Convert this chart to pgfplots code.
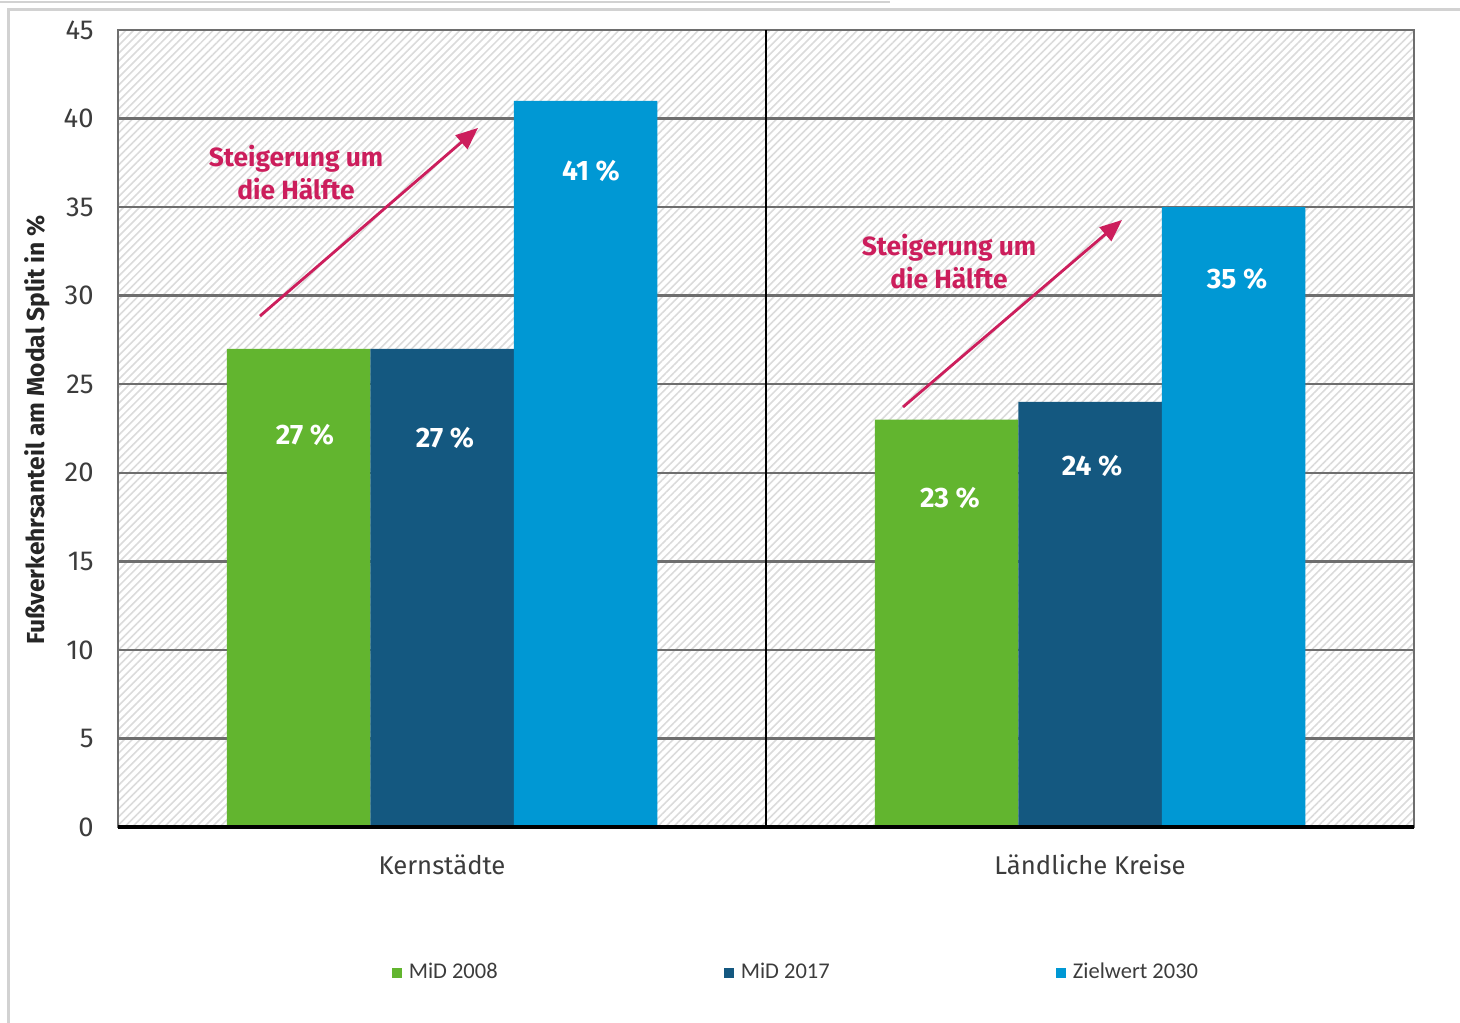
\documentclass[border=0pt]{standalone}
\usepackage{pgfplots}
\pgfplotsset{compat=1.18}
\usepackage{fontspec}
\setmainfont{Fira Sans}
\newfontfamily\carlito{Carlito}
\usetikzlibrary{patterns.meta,arrows.meta}
\definecolor{mgreen}{RGB}{98,181,47}
\definecolor{mdblue}{RGB}{20,88,128}
\definecolor{mlblue}{RGB}{0,152,212}
\definecolor{mmag}{RGB}{204,30,92}
\definecolor{gridc}{RGB}{110,110,110}
\definecolor{txt}{RGB}{60,60,60}
\begin{document}
\begin{tikzpicture}
\path[use as bounding box] (0,0) rectangle (14.6cm,10.23cm);
\draw[gray!35,line width=0.3mm] (0.08cm,0cm) -- (0.08cm,10.13cm) -- (14.6cm,10.13cm);
\draw[gray!35,line width=0.25mm] (0cm,10.21cm) -- (8.9cm,10.21cm);
\begin{axis}[
  at={(1.18cm,1.96cm)}, anchor=south west,
  scale only axis, width=12.96cm, height=7.97cm,
  ybar=0pt, bar width=1.435cm,
  xmin=-0.5, xmax=1.5, ymin=0, ymax=45,
  xtick={0,1}, xticklabels={Kernstädte, Ländliche Kreise},
  x tick label style={font=\fontsize{7.3}{9}\selectfont, text=txt, yshift=0mm},
  major x tick style={draw=none},
  extra x ticks={-0.5,0.5,1.5}, extra x tick labels={},
  extra x tick style={tick align=outside, major tick length=0.8mm, tick style={black, line width=0.6pt}},
  ytick={0,5,...,45},
  y tick label style={font=\fontsize{7.8}{9}\selectfont, text=txt, xshift=-1.2mm},
  /pgf/number format/assume math mode=true,
  major y tick style={draw=none},
  ymajorgrids, major grid style={gridc, line width=0.7pt},
  axis line style={gridc, line width=0.7pt},
  axis on top=false,
  axis background/.style={fill=white, postaction={pattern={Lines[angle=45,distance=1.6pt,line width=0.45pt]}, pattern color=gray!28}},
  ylabel={Fußverkehrsanteil am Modal Split in \%},
  ylabel style={at={(axis description cs:-0.0625,0.498)}, anchor=center, font=\bfseries\fontsize{7}{8}\selectfont, text=black!85},
  legend columns=3,
  legend style={at={(axis description cs:0.2107,-0.1832)}, anchor=west, draw=none, fill=none, inner sep=0pt,
    font=\carlito\fontsize{6.4}{8}\selectfont, text=txt,
    /tikz/every even column/.append style={column sep=0pt}},
  clip=false,
]
\addplot[fill=mgreen, draw=none, legend image code/.code={\fill[mgreen] (0mm,-0.5mm) rectangle (1mm,0.5mm);}] coordinates {(0,27) (1,23)};
\addlegendentry{\makebox[3.08cm][l]{MiD 2008}}
\addplot[fill=mdblue, draw=none, legend image code/.code={\fill[mdblue] (0mm,-0.5mm) rectangle (1mm,0.5mm);}] coordinates {(0,27) (1,24)};
\addlegendentry{\makebox[3.08cm][l]{MiD 2017}}
\addplot[fill=mlblue, draw=none, legend image code/.code={\fill[mlblue] (0mm,-0.5mm) rectangle (1mm,0.5mm);}] coordinates {(0,41) (1,35)};
\addlegendentry{\makebox[3.08cm][l]{Zielwert 2030}}
\draw[black, line width=0.6pt] (axis cs:0.5,0) -- (axis cs:0.5,45);
\draw[black, line width=1pt] (axis cs:-0.5,0) -- (axis cs:1.5,0);
\begin{scope}[every node/.style={text=white, font=\bfseries\fontsize{8}{9}\selectfont}]
\node at (axis cs:-0.2114,22.13) {27 \%};
\node at (axis cs:0.0046,21.96) {27 \%};
\node at (axis cs:0.2299,37.04) {41 \%};
\node at (axis cs:0.7839,18.58) {23 \%};
\node at (axis cs:1.0031,20.38) {24 \%};
\node at (axis cs:1.2269,30.94) {35 \%};
\end{scope}
\draw[mmag, line width=0.8pt, -{Triangle[length=2.2mm,width=1.8mm]}] (axis cs:-0.2809,28.85) -- (axis cs:0.0556,39.47);
\draw[mmag, line width=0.8pt, -{Triangle[length=2.2mm,width=1.8mm]}] (axis cs:0.7114,23.71) -- (axis cs:1.0494,34.27);
\node[text=mmag, font=\bfseries\fontsize{7.5}{9.4}\selectfont, align=center] at (axis cs:-0.2253,36.93) {Steigerung um\\die Hälfte};
\node[text=mmag, font=\bfseries\fontsize{7.5}{9.4}\selectfont, align=center] at (axis cs:0.7824,31.90) {Steigerung um\\die Hälfte};
\end{axis}
\end{tikzpicture}
\end{document}
